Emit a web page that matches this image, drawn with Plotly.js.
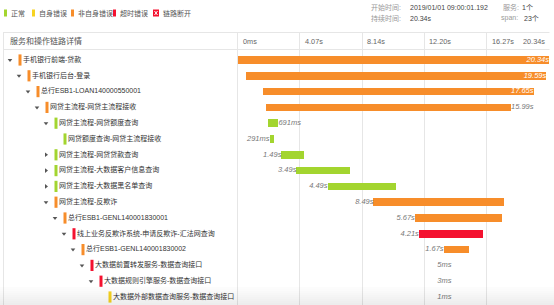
<!DOCTYPE html>
<html><head><meta charset="utf-8">
<script src="https://cdn.plot.ly/plotly-3.0.1.min.js"></script>
<style>html,body{margin:0;padding:0;background:#fff}#c{width:554px;height:305px}</style>
</head><body><div id="c"></div>
<script>
// ---- data ----
const names = [
  '手机银行前端-贷款',
  '手机银行后台-登录',
  '总行ESB1-LOAN140000550001',
  '网贷主流程-网贷主流程接收',
  '网贷主流程-网贷额度查询',
  '网贷额度查询-网贷主流程接收',
  '网贷主流程-网贷贷款查询',
  '网贷主流程-大数据客户信息查询',
  '网贷主流程-大数据黑名单查询',
  '网贷主流程-反欺诈',
  '总行ESB1-GENL140001830001',
  '线上业务反欺诈系统-申请反欺诈-汇法网查询',
  '总行ESB1-GENL140001830002',
  '大数据前置转发服务-数据查询接口',
  '大数据规则引擎服务-数据查询接口',
  '大数据外部数据查询服务-数据查询接口'
];
const depth = [0,1,2,3,4,5,4,4,4,4,5,6,7,8,9,10];
const expand = ['open','open','open','open','open','none','closed','closed','closed','open','open','open','open','open','open','none'];
const status = ['nonself','nonself','nonself','nonself','normal','normal','normal','normal','normal','nonself','nonself','timeout','nonself','timeout','timeout','self'];
const starts = [0,0.57,1.68,1.87,1.98,2.09,2.87,3.85,5.88,8.88,11.58,11.84,13.46,13.97,13.97,13.97];   // seconds
const durations = [20.34,19.59,17.65,15.99,0.691,0.291,1.49,3.49,4.49,8.49,5.67,4.21,1.67,0.005,0.003,0.001]; // seconds
const labelPos = ['in','in','in','right','right','left','left','left','left','left','left','left','left','left','left','left'];
const timeTicks = [0,4.07,8.14,12.20,16.27,20.34];
const timeTickText = ['0ms','4.07s','8.14s','12.20s','16.27s','20.34s'];
const legendLabels = ['正常','自身错误','非自身错误','超时错误','链路断开'];
const legendKeys = ['normal','self','nonself','timeout','broken'];
const infoStart = '2019/01/01 09:00:01.192';
const infoDuration = '20.34s';
const infoServices = '1个';
const infoSpans = '23个';

// ---- styles ----
const colorOf = {normal:'#a3d52f', self:'#f7d320', nonself:'#f78d2a', timeout:'#f4112f', broken:'#f4112f'};
const FONT = 'Liberation Sans, Noto Sans CJK SC, sans-serif';
const W = 554, H = 305;
const px = x => x / W;
const py = y => 1 - y / H;
const fmt = d => d < 1 ? Math.round(d * 1000) + 'ms' : d.toFixed(2) + 's';

const rowTop = 33, row0 = 60, rowH = 15.8;
const yr = [(H - row0) / rowH, (rowTop - row0) / rowH];
const xDomPx = [237.5, 549];
const pxPerSec = (xDomPx[1] - xDomPx[0]) / timeTicks[timeTicks.length - 1];

const colors = status.map(s => colorOf[s]);
const ends = starts.map((s, i) => s + durations[i]);

const bars = {
  type: 'bar', orientation: 'h', y: names, x: durations, base: starts,
  marker: {color: colors, line: {width: 0}, opacity: durations.map(d => d * pxPerSec < 1 ? 0 : 1)}, width: 0.47,
  hoverinfo: 'skip', xaxis: 'x', yaxis: 'y', showlegend: false
};

const labels = {
  type: 'scatter', mode: 'text', y: names,
  x: labelPos.map((p, i) => p === 'left' ? starts[i] : ends[i]),
  text: durations.map(fmt),
  textposition: labelPos.map(p => p === 'right' ? 'middle right' : 'middle left'),
  textfont: {family: FONT, size: 7.5, style: 'italic', color: labelPos.map(p => p === 'in' ? '#ffffff' : '#777777')},
  hoverinfo: 'skip', xaxis: 'x', yaxis: 'y', showlegend: false, cliponaxis: false
};

const treeMarks = {
  type: 'scatter', mode: 'markers', y: names, x: depth.map(d => 20 + 9 * d),
  marker: {symbol: 'line-ns', size: 8, line: {width: 3, color: colors}},
  hoverinfo: 'skip', xaxis: 'x2', yaxis: 'y', showlegend: false, cliponaxis: false
};
const openIdx = expand.map((e, i) => e === 'open' ? i : -1).filter(i => i >= 0);
const closedIdx = expand.map((e, i) => e === 'closed' ? i : -1).filter(i => i >= 0);
const caretOpen = {
  type: 'scatter', mode: 'markers', y: openIdx.map(i => names[i]), x: openIdx.map(i => 10 + 9 * depth[i]),
  marker: {symbol: 'triangle-down', size: 4, color: '#555'},
  hoverinfo: 'skip', xaxis: 'x2', yaxis: 'y', showlegend: false, cliponaxis: false
};
const caretClosed = {
  type: 'scatter', mode: 'markers', y: closedIdx.map(i => names[i]), x: closedIdx.map(i => 10 + 9 * depth[i]),
  marker: {symbol: 'triangle-right', size: 4, color: '#555'},
  hoverinfo: 'skip', xaxis: 'x2', yaxis: 'y', showlegend: false, cliponaxis: false
};
const treeText = {
  type: 'scatter', mode: 'text', y: names, x: depth.map(d => 23 + 9 * d),
  text: names, textposition: 'middle right',
  textfont: {family: FONT, size: 7, color: '#333'},
  hoverinfo: 'skip', xaxis: 'x2', yaxis: 'y', showlegend: false, cliponaxis: false
};

const border = '#e6e6e6';
const shapes = [
  {type:'line', xref:'paper', yref:'paper', x0:px(3), x1:px(549.5), y0:py(32.5), y1:py(32.5), line:{color:border, width:1}},
  {type:'line', xref:'paper', yref:'paper', x0:px(3), x1:px(549.5), y0:py(49.5), y1:py(49.5), line:{color:border, width:1}},
  {type:'line', xref:'paper', yref:'paper', x0:px(3.5), x1:px(3.5), y0:py(32.5), y1:0, line:{color:border, width:1}},
  {type:'line', xref:'paper', yref:'paper', x0:px(237.5), x1:px(237.5), y0:py(32.5), y1:0, line:{color:border, width:1}}
];
for (let k = 0; k < 9; k++) {
  shapes.push({type:'rect', xref:'paper', yref:'paper', x0:0, x1:1, y0:py(305 - 2 * k), y1:py(303 - 2 * k),
    fillcolor:'rgba(0,0,0,' + (0.07 - k * 0.0075).toFixed(4) + ')', line:{width:0}, layer:'above'});
}
const legX = [4, 32, 71, 113, 153];
legendKeys.forEach((k, i) => {
  if (k === 'broken') {
    shapes.push({type:'rect', xref:'paper', yref:'paper', x0:px(legX[i]), x1:px(legX[i] + 6), y0:py(16.5), y1:py(9.5), fillcolor:colorOf[k], line:{width:0}});
    shapes.push({type:'line', xref:'paper', yref:'paper', x0:px(legX[i] + 1.5), x1:px(legX[i] + 4.5), y0:py(11), y1:py(15), line:{color:'#fff', width:1}});
    shapes.push({type:'line', xref:'paper', yref:'paper', x0:px(legX[i] + 1.5), x1:px(legX[i] + 4.5), y0:py(15), y1:py(11), line:{color:'#fff', width:1}});
  } else {
    shapes.push({type:'rect', xref:'paper', yref:'paper', x0:px(legX[i]), x1:px(legX[i] + 3), y0:py(16.5), y1:py(9.5), fillcolor:colorOf[k], line:{width:0}});
  }
});

const ann = [];
legendLabels.forEach((t, i) => {
  ann.push({xref:'paper', yref:'paper', x:px(legX[i] + (legendKeys[i] === 'broken' ? 8 : 5)), y:py(13), xanchor:'left', yanchor:'middle',
    text:t, showarrow:false, font:{family:FONT, size:7, color:'#555'}});
});
ann.push({xref:'paper', yref:'paper', x:px(8), y:py(41.5), xanchor:'left', yanchor:'middle', text:'服务和操作链路详情', showarrow:false, font:{family:FONT, size:8, color:'#555'}});
timeTicks.forEach((v, i) => {
  const last = i === timeTicks.length - 1;
  ann.push({xref:'x', yref:'paper', x:v, y:py(41.5), xanchor:last ? 'right' : 'left', yanchor:'middle', xshift:last ? -2 : 3,
    text:timeTickText[i], showarrow:false, font:{family:FONT, size:7.3, color:'#666'}});
});
const info = [
  ['开始时间:', 369, 7, '#999'], [infoStart, 408, 7, '#444'],
  ['服务:', 501, 7, '#999'], [infoServices, 520, 7, '#444'],
  ['持续时间:', 369, 18, '#999'], [infoDuration, 408, 18, '#444'],
  ['span:', 499, 18, '#999'], [infoSpans, 522, 18, '#444']
];
info.forEach(([t, x, y, c]) => ann.push({xref:'paper', yref:'paper', x:px(x), y:py(y), xanchor:'left', yanchor:'middle', text:t, showarrow:false, font:{family:FONT, size:7, color:c}}));

const layout = {
  width: W, height: H, margin: {l:0, r:0, t:0, b:0, pad:0},
  paper_bgcolor: '#fff', plot_bgcolor: 'rgba(0,0,0,0)',
  showlegend: false, bargap: 0,
  xaxis: {domain:[px(xDomPx[0]), px(xDomPx[1])], range:[0, 20.34], tickvals:timeTicks, showticklabels:false, ticks:'',
    showgrid:true, gridcolor:border, gridwidth:1, zeroline:false, showline:false, fixedrange:true},
  xaxis2: {domain:[0, px(237.5)], range:[0, 237.5], visible:false, anchor:'y', fixedrange:true},
  yaxis: {domain:[0, py(rowTop)], type:'category', categoryarray:names, range:yr, showticklabels:false,
    showgrid:false, zeroline:false, ticks:'', fixedrange:true},
  shapes: shapes, annotations: ann
};

Plotly.newPlot('c', [bars, labels, treeMarks, caretOpen, caretClosed, treeText], layout, {displayModeBar:false, staticPlot:true});
</script></body></html>
